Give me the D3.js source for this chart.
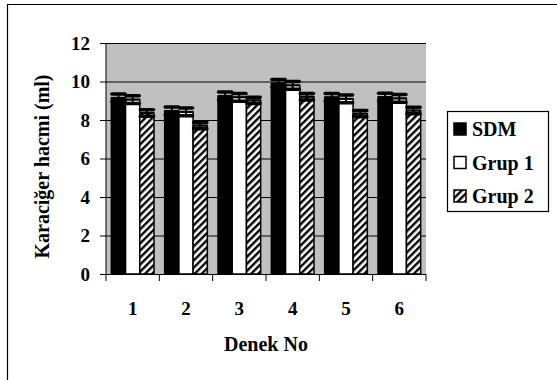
<!DOCTYPE html>
<html><head><meta charset="utf-8">
<script src="https://cdn.jsdelivr.net/npm/d3@7/dist/d3.min.js"></script>
<style>body{margin:0;background:#fff}svg{display:block}text{font-family:"Liberation Serif","Times New Roman",serif;font-weight:bold}</style>
</head><body><svg id="c" width="557" height="380"></svg>
<script>
const categories = ["1","2","3","4","5","6"];
const seriesNames = ["SDM","Grup 1","Grup 2"];
const sdm   = [9.15, 8.47, 9.25, 9.90, 9.18, 9.19];
const grup1 = [9.06, 8.42, 9.18, 9.80, 9.10, 9.12];
const grup2 = [8.36, 7.71, 9.02, 9.21, 8.33, 8.49];
const errSdm   = [0.2, 0.2, 0.2, 0.2, 0.2, 0.2];
const errGrup1 = [0.2, 0.2, 0.2, 0.2, 0.2, 0.2];
const errGrup2 = [0.17, 0.16, 0.16, 0.17, 0.16, 0.17];
const yTicks = [0, 2, 4, 6, 8, 10, 12];
const yLabel = "Karaciğer hacmi (ml)";
const xLabel = "Denek No";

const values = [sdm, grup1, grup2];
const errs = [errSdm, errGrup1, errGrup2];
const svg = d3.select("#c");
const L = 106, R = 426, T = 43, B = 274;

const defs = svg.append("defs");
const pat = defs.append("pattern").attr("id","hatch").attr("patternUnits","userSpaceOnUse")
  .attr("width",5).attr("height",5).attr("patternTransform","rotate(45)");
pat.append("rect").attr("width",5).attr("height",5).attr("fill","#fff");
pat.append("rect").attr("x",0).attr("width",2.4).attr("height",5).attr("fill","#000");

const fills = ["#000", "#fff", "url(#hatch)"];

// outer frame
svg.append("path").attr("d","M7.5,400 V4.5 H560").attr("fill","none").attr("stroke","#000").attr("stroke-width",1.2);

const x0 = d3.scaleBand().domain(categories).range([L, R]).paddingInner(0.2).paddingOuter(0.1);
const x1 = d3.scaleBand().domain(seriesNames).range([0, x0.bandwidth()]);
const y = d3.scaleLinear().domain([0, 12]).range([B, T]);

svg.append("rect").attr("x",L).attr("y",T).attr("width",R-L).attr("height",B-T).attr("fill","#c0c0c0");
svg.append("g").selectAll("line").data(yTicks.filter(d=>d>0)).join("line")
  .attr("x1",L).attr("x2",R).attr("y1",d=>y(d)+0.5).attr("y2",d=>y(d)+0.5).attr("stroke","#000").attr("stroke-width",1);

const rows = [];
categories.forEach((c,i)=>seriesNames.forEach((s,j)=>rows.push({c,s,j,v:values[j][i],e:errs[j][i]})));

svg.append("g").selectAll("rect").data(rows).join("rect")
  .attr("x",d=>x0(d.c)+x1(d.s)).attr("y",d=>y(d.v)).attr("width",x1.bandwidth()).attr("height",d=>B-y(d.v))
  .attr("fill",d=>fills[d.j]).attr("stroke","#000").attr("stroke-width",1.5);

// error bars
const eg = svg.append("g");
rows.forEach(d=>{
  const xa = x0(d.c)+x1(d.s), xb = xa + x1.bandwidth(), xm = (xa+xb)/2;
  eg.append("line").attr("x1",xm).attr("x2",xm).attr("y1",y(d.v+d.e)).attr("y2",y(d.v-d.e)).attr("stroke","#000").attr("stroke-width",2);
  [d.v+d.e, d.v-d.e].forEach(v=>{
    eg.append("line").attr("x1",xa+0.5).attr("x2",xb-0.5).attr("y1",y(v)).attr("y2",y(v))
      .attr("stroke","#000").attr("stroke-width",3.5).attr("stroke-linecap","round");
  });
  eg.append("line").attr("x1",xa).attr("x2",xb).attr("y1",y(d.v)).attr("y2",y(d.v)).attr("stroke","#000").attr("stroke-width",2);
});

// axes
const yAxis = svg.append("g").attr("transform",`translate(${L},0)`)
  .call(d3.axisLeft(y).tickValues(yTicks).tickSize(6).tickPadding(10).tickFormat(d3.format("d")));
yAxis.select(".domain").remove();
yAxis.append("line").attr("x1",0).attr("x2",0).attr("y1",T).attr("y2",B).attr("stroke","#000");
yAxis.selectAll("text").attr("font-size",19).attr("fill","#000");

const xAxis = svg.append("g").attr("transform",`translate(0,${B})`)
  .call(d3.axisBottom(x0).tickSize(0).tickPadding(28));
xAxis.select(".domain").remove();
xAxis.append("line").attr("x1",L).attr("x2",R).attr("y1",0.5).attr("y2",0.5).attr("stroke","#000");
xAxis.selectAll("text").attr("font-size",19).attr("fill","#000");
const step = x0.step();
const bounds = d3.range(categories.length+1).map(i=>L+i*step);
xAxis.selectAll(".b").data(bounds).join("line").attr("class","b")
  .attr("x1",d=>d).attr("x2",d=>d).attr("y1",0).attr("y2",7).attr("stroke","#000");

svg.append("text").attr("x",(L+R)/2).attr("y",351).attr("text-anchor","middle").attr("font-size",20).text(xLabel);
svg.append("text").attr("transform",`translate(49,${(T+B)/2+8}) rotate(-90)`).attr("text-anchor","middle").attr("font-size",20).text(yLabel);

// legend
const lg = svg.append("g");
lg.append("rect").attr("x",447.5).attr("y",111.5).attr("width",101).attr("height",100).attr("fill","#fff").attr("stroke","#000").attr("stroke-width",1.2);
seriesNames.forEach((s,j)=>{
  const cy = 129 + j*33.5;
  lg.append("rect").attr("x",454).attr("y",cy-6).attr("width",12).attr("height",12).attr("fill",fills[j]).attr("stroke","#000").attr("stroke-width",1.5);
  lg.append("text").attr("x",472).attr("y",cy+7).attr("font-size",20).text(s);
});
</script></body></html>
